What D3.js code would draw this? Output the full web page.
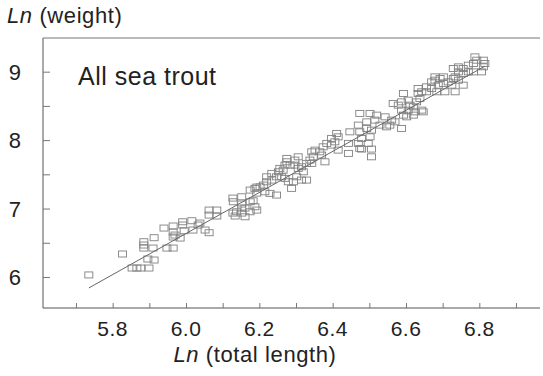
<!DOCTYPE html>
<html>
<head>
<meta charset="utf-8">
<script src="https://cdn.jsdelivr.net/npm/d3@7"></script>
<style>
  body { margin: 0; background: #fff; }
  text { font-family: "Liberation Sans", Arial, sans-serif; fill: #222; }
</style>
</head>
<body>
<script>
// ln(total length) and ln(weight) of each fish
const lnLength = [
  5.735, 5.827, 5.853, 5.866, 5.877, 5.899, 5.896, 5.913, 5.885, 5.885,
  5.885, 5.913, 5.910, 5.948, 5.965, 5.940, 5.965, 5.965, 5.965, 5.991,
  5.991, 6.016, 5.995, 6.019, 5.970, 5.984, 6.038, 6.052, 6.063, 6.063,
  6.084, 6.063, 6.084, 6.033, 6.128, 6.152, 6.175, 6.193, 6.128, 6.152,
  6.175, 6.152, 6.175, 6.193, 6.129, 6.152, 6.161, 6.138, 6.134, 6.161,
  6.193, 6.183, 6.188, 6.188, 6.202, 6.211, 6.220, 6.234, 6.215, 6.229,
  6.247, 6.220, 6.234, 6.252, 6.265, 6.247, 6.261, 6.270, 6.279, 6.288,
  6.256, 6.270, 6.284, 6.297, 6.306, 6.320, 6.302, 6.315, 6.329, 6.293,
  6.275, 6.275, 6.297, 6.306, 6.315, 6.329, 6.343, 6.338, 6.343, 6.352,
  6.347, 6.379, 6.370, 6.365, 6.374, 6.384, 6.397, 6.406, 6.415, 6.411,
  6.397, 6.415, 6.443, 6.443, 6.447, 6.474, 6.470, 6.479, 6.470, 6.493,
  6.493, 6.506, 6.502, 6.497, 6.474, 6.506, 6.474, 6.502, 6.520, 6.515,
  6.529, 6.547, 6.556, 6.561, 6.543, 6.479, 6.506, 6.588, 6.570, 6.593,
  6.565, 6.579, 6.588, 6.593, 6.606, 6.611, 6.620, 6.606, 6.624, 6.643,
  6.620, 6.602, 6.588, 6.629, 6.638, 6.647, 6.633, 6.633, 6.643, 6.656,
  6.670, 6.679, 6.693, 6.688, 6.684, 6.706, 6.734, 6.656, 6.670, 6.702,
  6.715, 6.729, 6.725, 6.756, 6.743, 6.729, 6.743, 6.743, 6.756, 6.770,
  6.784, 6.793, 6.788, 6.811, 6.815, 6.811, 6.806, 6.784, 6.770, 6.756,
  6.734, 6.702, 6.679
];
const lnWeight = [
  6.030, 6.336, 6.131, 6.131, 6.131, 6.131, 6.263, 6.248, 6.515, 6.467,
  6.423, 6.574, 6.423, 6.423, 6.423, 6.715, 6.745, 6.657, 6.584, 6.807,
  6.759, 6.822, 6.676, 6.686, 6.613, 6.569, 6.788, 6.686, 6.647, 6.978,
  6.978, 6.905, 6.891, 6.759, 7.153, 7.172, 7.270, 7.314, 6.934, 6.934,
  6.953, 7.007, 7.099, 7.226, 7.099, 7.066, 7.007, 6.953, 6.891, 6.880,
  6.978, 7.114, 7.026, 7.295, 7.318, 7.343, 7.391, 7.416, 7.245, 7.222,
  7.197, 7.464, 7.514, 7.537, 7.562, 7.464, 7.464, 7.441, 7.391, 7.295,
  7.587, 7.635, 7.635, 7.635, 7.587, 7.537, 7.464, 7.416, 7.416, 7.391,
  7.733, 7.683, 7.708, 7.756, 7.610, 7.660, 7.660, 7.708, 7.829, 7.854,
  7.756, 7.683, 7.781, 7.829, 7.902, 7.952, 7.927, 7.975, 8.048, 8.098,
  8.025, 7.854, 7.806, 7.952, 8.121, 8.121, 8.219, 8.025, 7.952, 8.267,
  8.171, 8.146, 8.048, 7.952, 7.879, 7.756, 8.390, 8.390, 8.365, 8.292,
  8.219, 8.194, 8.219, 8.292, 8.340, 7.869, 7.869, 8.171, 8.267, 8.365,
  8.536, 8.511, 8.559, 8.682, 8.584, 8.511, 8.486, 8.438, 8.413, 8.438,
  8.365, 8.340, 8.438, 8.559, 8.609, 8.413, 8.755, 8.682, 8.706, 8.778,
  8.851, 8.876, 8.901, 8.803, 8.706, 8.706, 8.706, 8.706, 8.755, 8.828,
  8.851, 8.901, 8.803, 8.803, 8.876, 9.047, 9.070, 8.997, 9.047, 9.095,
  9.120, 9.168, 9.216, 9.168, 9.120, 9.071, 8.997, 8.997, 8.997, 8.974,
  8.924, 8.924, 8.924
];
// fitted regression line, end points
const fitX = [5.735, 6.815];
const fitY = [5.84, 9.08];

const xTicks = [5.8, 6.0, 6.2, 6.4, 6.6, 6.8];
const xMinorTicks = [5.7, 5.8, 5.9, 6.0, 6.1, 6.2, 6.3, 6.4, 6.5, 6.6, 6.7, 6.8, 6.9];
const yTicks = [6, 7, 8, 9];
const yMinorTicks = [6, 6.5, 7, 7.5, 8, 8.5, 9];

const W = 543, H = 376;
const margin = {top: 38, right: 3, bottom: 68, left: 43};

const svg = d3.select("body").append("svg")
  .attr("width", W)
  .attr("height", H);

const x = d3.scaleLinear().domain([5.61, 6.9655]).range([margin.left, W - margin.right]);
const y = d3.scaleLinear().domain([5.547, 9.492]).range([H - margin.bottom, margin.top]);

const axisColor = "#555";

// frame: left, top and bottom lines
svg.append("line")
  .attr("x1", margin.left).attr("x2", margin.left)
  .attr("y1", margin.top).attr("y2", H - margin.bottom)
  .attr("stroke", axisColor);
svg.append("line")
  .attr("x1", margin.left).attr("x2", W - margin.right)
  .attr("y1", margin.top).attr("y2", margin.top)
  .attr("stroke", "#777");

// x axis, ticks pointing inward
const xAxis = d3.axisTop(x).tickValues(xMinorTicks).tickSize(5).tickFormat("");
svg.append("g")
  .attr("transform", "translate(0," + (H - margin.bottom) + ")")
  .call(xAxis)
  .call(g => g.select(".domain").attr("stroke", axisColor).attr("d", "M" + margin.left + ",0H" + (W - margin.right)))
  .call(g => g.selectAll(".tick line").attr("stroke", "#777"));

svg.selectAll(".xlab").data(xTicks).enter().append("text")
  .attr("class", "xlab")
  .attr("x", d => x(d))
  .attr("y", H - margin.bottom + 28)
  .attr("text-anchor", "middle")
  .style("font-size", "21px")
  .style("letter-spacing", "0.5px")
  .text(d => d.toFixed(1));

// y axis, ticks pointing inward
const yAxis = d3.axisRight(y).tickValues(yMinorTicks).tickSize(7).tickFormat("");
svg.append("g")
  .attr("transform", "translate(" + margin.left + ",0)")
  .call(yAxis)
  .call(g => g.select(".domain").remove())
  .call(g => g.selectAll(".tick line").attr("stroke", "#777"));

svg.selectAll(".ylab").data(yTicks).enter().append("text")
  .attr("class", "ylab")
  .attr("x", 21)
  .attr("y", d => y(d) + 8)
  .attr("text-anchor", "end")
  .style("font-size", "22px")
  .text(d => d);

// axis titles
const yTitle = svg.append("text")
  .attr("x", 7)
  .attr("y", 23)
  .style("font-size", "22px")
  .style("letter-spacing", "0.6px");
yTitle.append("tspan").style("font-style", "italic").text("Ln");
yTitle.append("tspan").text(" (weight)");

const xTitle = svg.append("text")
  .attr("x", 255)
  .attr("y", 362)
  .attr("text-anchor", "middle")
  .style("font-size", "22px")
  .style("letter-spacing", "0.6px");
xTitle.append("tspan").style("font-style", "italic").text("Ln");
xTitle.append("tspan").text(" (total length)");

svg.append("text")
  .attr("x", 78)
  .attr("y", 85)
  .style("font-size", "25px")
  .style("letter-spacing", "0.5px")
  .text("All sea trout");

// observations as open squares
const pts = lnLength.map((v, i) => ({len: v, wt: lnWeight[i]}));
const sw = 8, sh = 6;
svg.selectAll(".pt").data(pts).enter().append("rect")
  .attr("class", "pt")
  .attr("x", d => x(d.len) - sw / 2)
  .attr("y", d => y(d.wt) - sh / 2)
  .attr("width", sw)
  .attr("height", sh)
  .attr("fill", "none")
  .attr("stroke", "#808080")
  .attr("stroke-width", 0.9);

// regression line
svg.append("line")
  .attr("x1", x(fitX[0])).attr("y1", y(fitY[0]))
  .attr("x2", x(fitX[1])).attr("y2", y(fitY[1]))
  .attr("stroke", "#666")
  .attr("stroke-width", 1);
</script>
</body>
</html>
